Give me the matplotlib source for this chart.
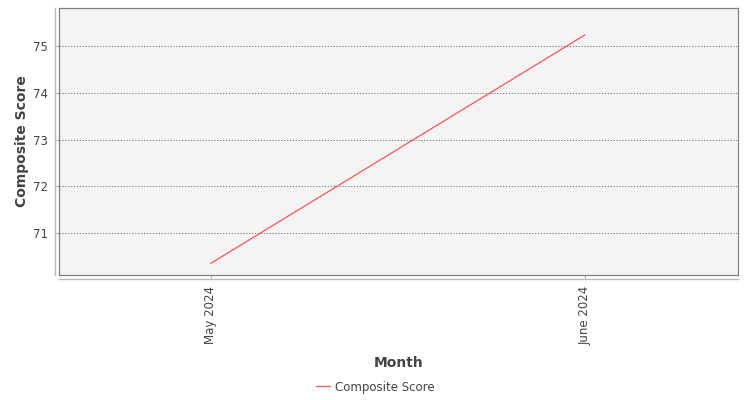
import matplotlib
matplotlib.use("Agg")
import matplotlib.pyplot as plt
from matplotlib.lines import Line2D

# data
months = ["May 2024", "June 2024"]
composite_score = [70.35, 75.24]
y_ticks = [71, 72, 73, 74, 75]

plt.rcParams['font.family'] = ['DejaVu Sans']

fig = plt.figure(figsize=(7.5, 4), dpi=100)
ax = fig.add_axes([59 / 750, 125 / 400, 679 / 750, 267 / 400])
ax.set_facecolor("#f4f4f4")

x = list(range(len(months)))
ax.plot(x, composite_score, color="#ff5555", linewidth=0.9, label="Composite Score")

ax.set_xlim(-0.406, 1.41)
ax.set_ylim(70.10, 75.82)
ax.set_xticks(x)
ax.set_xticklabels(months, rotation=90, fontsize=8.5, color="#444444")
ax.set_yticks(y_ticks)
ax.set_yticklabels([str(v) for v in y_ticks], fontsize=8.5, color="#444444")
ax.tick_params(axis="both", length=2, color="#aaaaaa", pad=6)

ax.grid(axis="y", color="#666666", linestyle=(0, (1.5, 2)), linewidth=0.6)
ax.set_axisbelow(True)
for s in ax.spines.values():
    s.set_color("#808080")
    s.set_linewidth(0.9)

# separate axis lines, offset from the plot frame
off_x = 4 / 679
off_y = 4 / 267
ax.add_artist(Line2D([-off_x, -off_x], [0, 1], transform=ax.transAxes,
                     color="#bbbbbb", linewidth=1, clip_on=False))
ax.add_artist(Line2D([0, 1], [-off_y, -off_y], transform=ax.transAxes,
                     color="#bbbbbb", linewidth=1, clip_on=False))

ax.set_xlabel("Month", fontsize=10, fontweight="bold", color="#444444", labelpad=8)
ax.set_ylabel("Composite Score", fontsize=10, fontweight="bold", color="#444444", labelpad=3)

fig.legend(loc="center", bbox_to_anchor=(0.5, 13 / 400), frameon=False,
           fontsize=8.5, handlelength=1.2, handletextpad=0.4,
           labelcolor="#444444")

fig.savefig("out.png", dpi=100)
